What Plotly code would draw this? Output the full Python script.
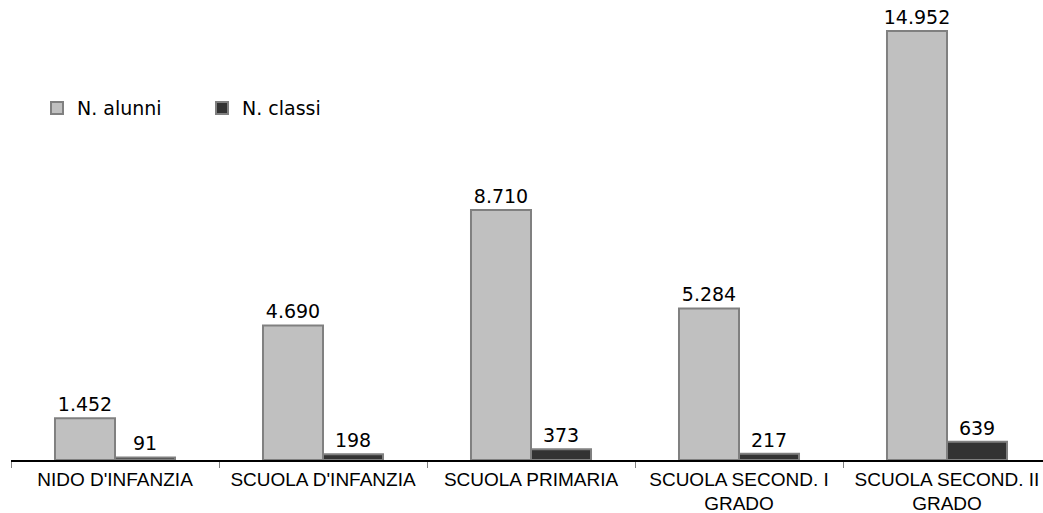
import plotly.graph_objects as go

categories = ["NIDO D'INFANZIA", "SCUOLA D'INFANZIA", "SCUOLA PRIMARIA",
              "SCUOLA SECOND. I<br>GRADO", "SCUOLA SECOND. II<br>GRADO"]
alunni = [1452, 4690, 8710, 5284, 14952]
classi = [91, 198, 373, 217, 639]


def fmt(v):
    return f"{v:,}".replace(",", ".")


lbl_font = dict(family="DejaVu Sans", size=19, color="black")

fig = go.Figure()
fig.add_trace(go.Bar(x=categories, y=alunni, name="N. alunni",
                     marker=dict(color="#C0C0C0", line=dict(color="#808080", width=2)),
                     text=[fmt(v) for v in alunni], textposition="outside",
                     textfont=lbl_font, cliponaxis=False, constraintext="none"))
fig.add_trace(go.Bar(x=categories, y=classi, name="N. classi",
                     marker=dict(color="#333333", line=dict(color="#808080", width=2)),
                     text=[fmt(v) for v in classi], textposition="outside",
                     textfont=lbl_font, cliponaxis=False, constraintext="none"))

W, H = 1043, 513
top = 10
base = 460
fig.update_layout(
    width=W, height=H,
    margin=dict(l=11, r=0, t=top, b=H - base),
    paper_bgcolor="white", plot_bgcolor="white",
    barmode="group", bargap=0.423, bargroupgap=0,
    showlegend=True,
    legend=dict(orientation="h", x=0.0252, y=0.782, xanchor="left", yanchor="middle",
                font=dict(family="DejaVu Sans", size=19, color="black"),
                entrywidth=120, entrywidthmode="pixels", itemwidth=30,
                bgcolor="rgba(0,0,0,0)"),
    xaxis=dict(range=[-0.5, -0.5 + (W - 11) / 208], showline=True,
               linecolor="black", linewidth=1.5, ticks="outside", tickson="boundaries",
               ticklen=6, tickcolor="#808080", tickwidth=1, automargin=False,
               ticklabelstandoff=1,
               tickfont=dict(family="Liberation Sans", size=19, color="black"),
               showgrid=False, zeroline=False),
    yaxis=dict(range=[0, 14952 * (base - top) / 429], visible=False,
               showgrid=False, zeroline=False),
)

# drop the default 8px page margin so the figure fills the window exactly
fig.write_html("out.html", config={"displayModeBar": False},
               post_script="document.body.style.margin='0';document.body.style.overflow='hidden';")
